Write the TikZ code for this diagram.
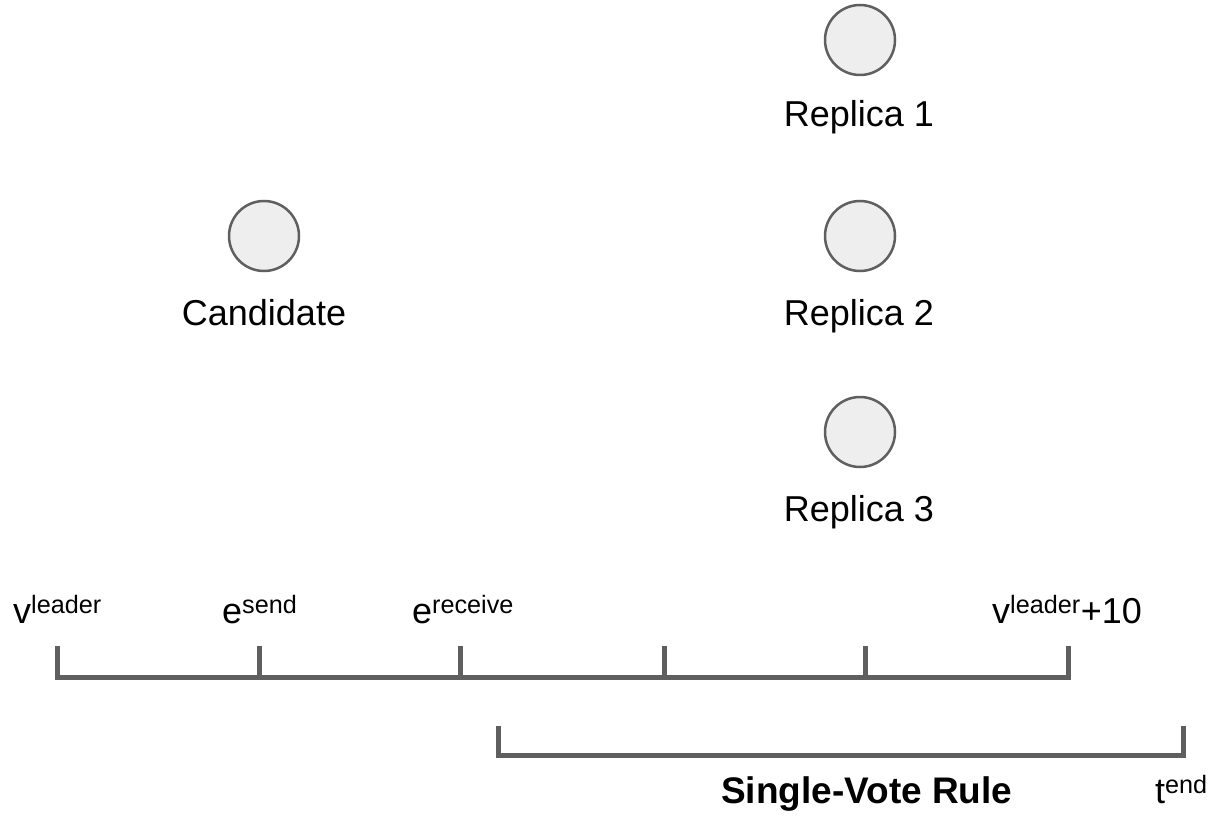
\documentclass[tikz,border=0pt]{standalone}
\usepackage{fontspec}
\setmainfont{Liberation Sans}
\usepackage{tikz}
\usetikzlibrary{positioning,calc}
\usepackage{xcolor}

\definecolor{nodefill}{HTML}{EEEEEE}
\definecolor{linegray}{HTML}{5F5F5F}

\tikzset{
    process/.style={circle, draw=linegray, fill=nodefill, line width=2.5pt, minimum size=70pt, inner sep=0pt},
    lbl/.style={font=\fontsize{36}{43}\selectfont, inner sep=0pt, anchor=base},
    tick/.style={linegray, line width=5pt},
}

\begin{document}
\begin{tikzpicture}[x=1pt, y=-1pt]
    \useasboundingbox (0,0) rectangle (1212,818);

    % processes
    \node[process] (cand) at (264, 236) {};
    \node[process] (rep1) at (860, 40) {};
    \node[process] (rep2) at (860, 236) {};
    \node[process] (rep3) at (860, 432) {};

    \node[lbl] (candlbl) at (264, 325) {Candidate};
    \node[lbl] (rep1lbl) at (859, 127) {Replica 1};
    \node[lbl] (rep2lbl) at (859, 325) {Replica 2};
    \node[lbl] (rep3lbl) at (859, 521) {Replica 3};

    % timeline
    \foreach \i/\x in {0/57, 1/259, 2/460, 3/664, 4/865, 5/1068} {
        \coordinate (t\i) at (\x, 677);
        \draw[tick] (\x, 646) -- (t\i);
    }
    \draw[tick] ($(t0)+(-2.5,0)$) -- ($(t5)+(2.5,0)$);

    \node[lbl, anchor=base west] (vlead) at (13, 623) {v\textsuperscript{leader}};
    \node[lbl, anchor=base west] (esend) at (222, 623) {e\textsuperscript{send}};
    \node[lbl, anchor=base west] (erecv) at (412, 623) {e\textsuperscript{receive}};
    \node[lbl, anchor=base west] (vlead10) at (992, 623) {v\textsuperscript{leader}+10};

    % single-vote window
    \coordinate (s0) at (498, 755);
    \coordinate (s1) at (1183, 755);
    \draw[tick] (498, 726) -- (s0) -- (s1) -- (1183, 726);

    \node[lbl, anchor=base west, font=\fontsize{37}{44}\selectfont\bfseries] (rule) at (721, 803) {Single-Vote Rule};
    \node[lbl, anchor=base west] (tend) at (1155, 803) {t\textsuperscript{end}};
\end{tikzpicture}
\end{document}
